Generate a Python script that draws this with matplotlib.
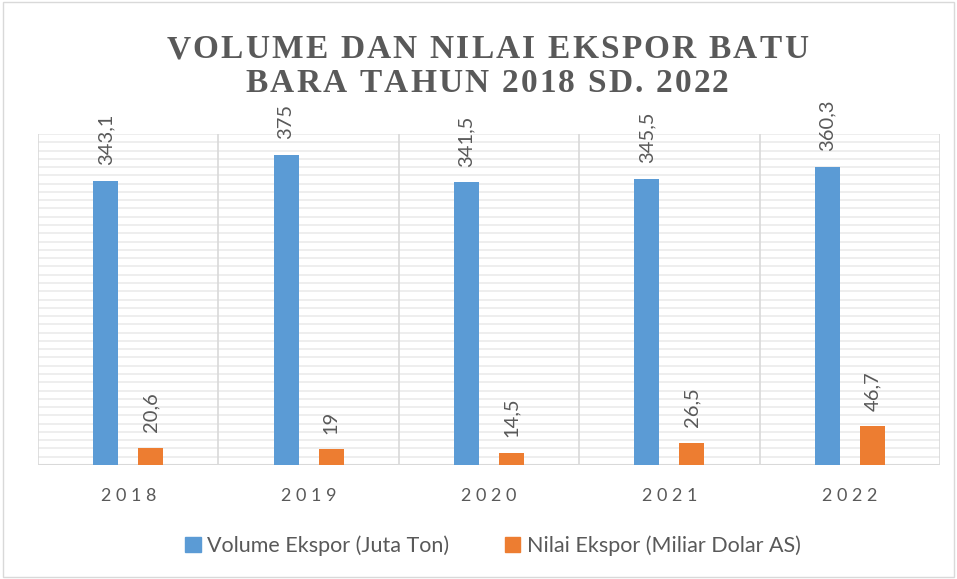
import matplotlib
matplotlib.use("Agg")
import matplotlib.pyplot as plt
import numpy as np
from matplotlib.patches import Rectangle, Patch

years = ["2018", "2019", "2020", "2021", "2022"]
volume = [343.1, 375, 341.5, 345.5, 360.3]
nilai = [20.6, 19, 14.5, 26.5, 46.7]
vol_labels = ["343,1", "375", "341,5", "345,5", "360,3"]
nil_labels = ["20,6", "19", "14,5", "26,5", "46,7"]
title_lines = ["VOLUME DAN NILAI EKSPOR BATU", "BARA TAHUN 2018 SD. 2022"]

blue = "#5B9BD5"
orange = "#ED7D31"
gray = "#595959"

W, H = 957, 579
fig = plt.figure(figsize=(W/100, H/100), dpi=100)
fig.patches.append(Rectangle((0.003, 0.003), 0.994, 0.994, transform=fig.transFigure,
                             fill=False, edgecolor="#D9D9D9", linewidth=1))
ax = fig.add_axes([38/W, 1-465/H, (940-38)/W, (465-134)/H])

x = np.arange(len(years))
w = 0.139
off = 0.125
ax.bar(x - off, volume, w, color=blue, zorder=3)
ax.bar(x + off, nilai, w, color=orange, zorder=3)

ax.set_xlim(-0.5, 4.5)
ax.set_ylim(0, 400)
for yv in np.arange(10, 401, 10):
    ax.axhline(yv, color="#EBEBEB", linewidth=1.2, zorder=1)
for xv in np.arange(-0.5, 4.6, 1):
    ax.axvline(xv, color="#D9D9D9", linewidth=1.2, zorder=2)
ax.axhline(0, color="#D9D9D9", linewidth=1.5, zorder=2)

for s in ax.spines.values():
    s.set_visible(False)
ax.tick_params(left=False, labelleft=False, bottom=False)
ax.set_xticks(x)
ax.set_xticklabels([" ".join(y) for y in years], fontsize=13, color=gray, family="Lato")
ax.tick_params(axis="x", pad=13)

for i in range(len(years)):
    ax.text(x[i] - off, volume[i] + 19, vol_labels[i], rotation=90, ha="center", va="bottom",
            fontsize=14.5, color=gray, family="Lato")
    ax.text(x[i] + off, nilai[i] + 19, nil_labels[i], rotation=90, ha="center", va="bottom",
            fontsize=14.5, color=gray, family="Lato")

# title with letter spacing, placed char by char
renderer = fig.canvas.get_renderer()
fs = 24
tracking = 2.2  # px between letters
space_w = 0.25 * fs * 100 / 72
title_cx = 487
for line, yc in zip(title_lines, [50, 83]):
    widths = []
    for ch in line:
        if ch == " ":
            widths.append(space_w)
        else:
            t = fig.text(0, 0, ch, fontsize=fs, fontweight="bold", family="Liberation Serif")
            widths.append(t.get_window_extent(renderer).width)
            t.remove()
    total = sum(widths) + tracking * (len(line) - 1)
    xpos = title_cx - total / 2
    for ch, wd in zip(line, widths):
        if ch != " ":
            fig.text(xpos / W, 1 - yc / H, ch, ha="left", va="center", fontsize=fs,
                     fontweight="bold", color=gray, family="Liberation Serif")
        xpos += wd + tracking

handles = [Patch(color=blue, label="Volume Ekspor (Juta Ton)"),
           Patch(color=orange, label="Nilai Ekspor (Miliar Dolar AS)")]
fig.legend(handles=handles, loc="center", bbox_to_anchor=(493/W, 1-546/H), ncol=2,
           frameon=False, prop={"family": "Lato", "size": 15.5}, labelcolor=gray,
           handlelength=0.7, handleheight=0.7, handletextpad=0.3, columnspacing=2.6)

fig.savefig("out.png", dpi=100)
